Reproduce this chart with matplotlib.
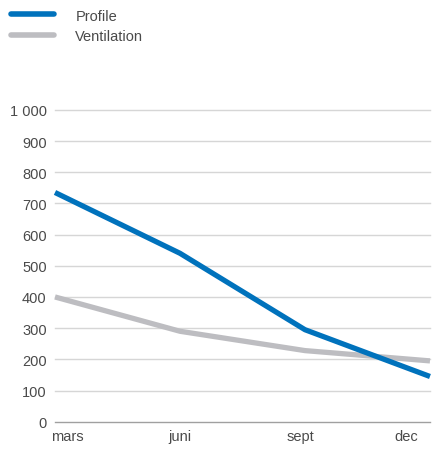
import matplotlib.pyplot as plt
import numpy as np

months = ['mars', 'juni', 'sept', 'dec']
profile = [735, 540, 295, 145]
ventilation = [400, 290, 228, 195]
yticks = [0, 100, 200, 300, 400, 500, 600, 700, 800, 900, 1000]
ytick_labels = ['0', '100', '200', '300', '400', '500', '600', '700', '800', '900', '1 000']

blue = '#0072bc'
grey = '#bdbdc1'
text_col = '#4a4a4a'

plt.rcParams['font.family'] = ['Liberation Sans', 'DejaVu Sans']

fig = plt.figure(figsize=(4.33, 4.52), dpi=100)
ax = fig.add_axes([0.127, 0.0648, 0.866, 0.690])

x = np.arange(len(months))
ax.plot(x, ventilation, color=grey, lw=3.8, solid_capstyle='butt', clip_on=False, label='Ventilation', zorder=3)
ax.plot(x, profile, color=blue, lw=3.8, solid_capstyle='butt', clip_on=False, label='Profile', zorder=4)

ax.set_xlim(0, 3)
ax.set_ylim(0, 1000)
ax.set_yticks(yticks)
ax.set_yticklabels(ytick_labels)
for y in yticks:
    ax.axhline(y, color='#a0a0a0' if y == 0 else '#d6d6d6', lw=1.0, zorder=1, clip_on=False)

# month labels sit a bit inside the data points
ax.set_xticks([0.1, 1.0, 1.96, 2.81])
ax.set_xticklabels(months)
ax.tick_params(length=0, labelsize=10.5, colors=text_col, pad=6)
ax.tick_params(axis='x', pad=5)
for s in ax.spines.values():
    s.set_visible(False)

handles, labels = ax.get_legend_handles_labels()
leg = fig.legend(handles[::-1], labels[::-1], loc='upper left', bbox_to_anchor=(-0.006, 1.008),
                 frameon=False, fontsize=10.5, handlelength=3.0, handletextpad=1.45,
                 labelspacing=0.45, labelcolor=text_col)
for h in leg.legend_handles:
    h.set_solid_capstyle('round')
    h.set_linewidth(4.0)

fig.savefig('out.png', dpi=100)
